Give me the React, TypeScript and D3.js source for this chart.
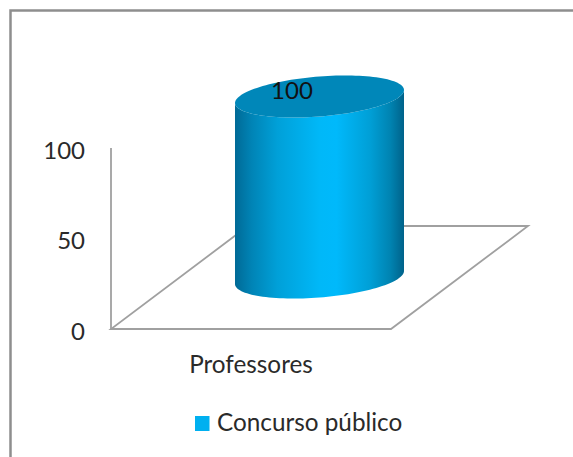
import React from "react";
import * as d3 from "d3";

// Chart content
const categories = ["Professores"];
const seriesName = "Concurso público";
const seriesValues = [100];
const yTicks = [0, 50, 100];

const WIDTH = 573;
const HEIGHT = 457;
const FONT = "Lato, Carlito, sans-serif";
const AXIS_COLOR = "#a0a0a0";
const FRAME_COLOR = "#8e8e8e";
const TEXT_COLOR = "#2a2a2a";

// Floor of the 3D plot: front edge plus the depth vector towards the back
const y = d3.scaleLinear().domain([0, 100]).range([329, 148]);
const x = d3.scaleBand<string>().domain(categories).range([111, 391]);
const depth = { dx: 137, dy: -103 };

// Elliptical cross-section of the cylinder, sheared to follow the floor perspective
const RX = 84.5;
const RY = 20;
const SHEAR = -6.5;
const ellipsePoint = (cx: number, cy: number, t: number): [number, number] => [
  cx + RX * Math.cos(t),
  cy + RY * Math.sin(t) + SHEAR * Math.cos(t),
];

const line = d3.line();

function cylinderPaths(category: string, value: number) {
  const cx = (x(category) ?? 0) + x.bandwidth() / 2 + depth.dx / 2;
  const baseY = y(0) + depth.dy / 2;
  const topY = baseY - (y(0) - y(value));
  const full = d3.range(0, 129).map((i) => (i / 128) * 2 * Math.PI);
  const lowerHalf = d3.range(0, 65).map((i) => (i / 64) * Math.PI);
  const top = line(full.map((t) => ellipsePoint(cx, topY, t))) + "Z";
  // Front surface: top rim's front half, then the base rim's front half in reverse
  const side =
    line([
      ...lowerHalf.map((t) => ellipsePoint(cx, topY, t)),
      ...lowerHalf
        .slice()
        .reverse()
        .map((t) => ellipsePoint(cx, baseY, t)),
    ]) + "Z";
  return { top, side, labelX: cx - 27.5, labelY: topY + 2 };
}

export default function App() {
  const left = x.range()[0];
  const right = x.range()[1];
  const floorY = y(0);
  const backY = floorY + depth.dy;
  return (
    <svg
      width={WIDTH}
      height={HEIGHT}
      viewBox={`0 0 ${WIDTH} ${HEIGHT}`}
      style={{ position: "absolute", left: 0, top: 0, background: "#fff" }}
      fontFamily={FONT}
    >
      <defs>
        <linearGradient id="cyl" x1="0" x2="1" y1="0" y2="0">
          <stop offset="0" stopColor="#006a96" />
          <stop offset="0.1" stopColor="#0084b6" />
          <stop offset="0.25" stopColor="#00a0d8" />
          <stop offset="0.5" stopColor="#00b8f8" />
          <stop offset="0.6" stopColor="#00b9fb" />
          <stop offset="0.8" stopColor="#009fd6" />
          <stop offset="0.92" stopColor="#0083b1" />
          <stop offset="1" stopColor="#00628a" />
        </linearGradient>
      </defs>

      {/* Outer chart frame, cut off by the right and bottom edges */}
      <path
        d={`M10.5 ${HEIGHT}V10.5H${WIDTH}`}
        fill="none"
        stroke={FRAME_COLOR}
        strokeWidth={2.5}
      />

      {/* Axis wall and floor */}
      <g fill="none" stroke={AXIS_COLOR} strokeWidth={1.8}>
        <path d={`M${left} ${y(100)}V${floorY}`} />
        <path
          d={`M${left} ${floorY}H${right}L${right + depth.dx} ${backY}H${left + depth.dx}Z`}
          strokeLinejoin="miter"
        />
      </g>

      {/* Value axis labels */}
      {yTicks.map((t) => (
        <text
          key={t}
          x={85}
          y={y(t) + 10.5}
          textAnchor="end"
          fontSize={24}
          fill={TEXT_COLOR}
        >
          {t}
        </text>
      ))}

      {/* Bars */}
      {categories.map((c, i) => {
        const p = cylinderPaths(c, seriesValues[i]);
        return (
          <g key={c}>
            <path d={p.side} fill="url(#cyl)" />
            <path d={p.top} fill="#0087b9" />
            <text
              x={p.labelX}
              y={p.labelY}
              textAnchor="middle"
              fontSize={24}
              fill="#111"
            >
              {seriesValues[i]}
            </text>
            <text
              x={(x(c) ?? 0) + x.bandwidth() / 2}
              y={373}
              textAnchor="middle"
              fontSize={24.3}
              fill={TEXT_COLOR}
            >
              {c}
            </text>
          </g>
        );
      })}

      {/* Legend */}
      <rect x={195} y={416} width={14.5} height={15} fill="#00b0f0" />
      <text x={217} y={431} fontSize={24.3} fill={TEXT_COLOR}>
        {seriesName}
      </text>
    </svg>
  );
}
